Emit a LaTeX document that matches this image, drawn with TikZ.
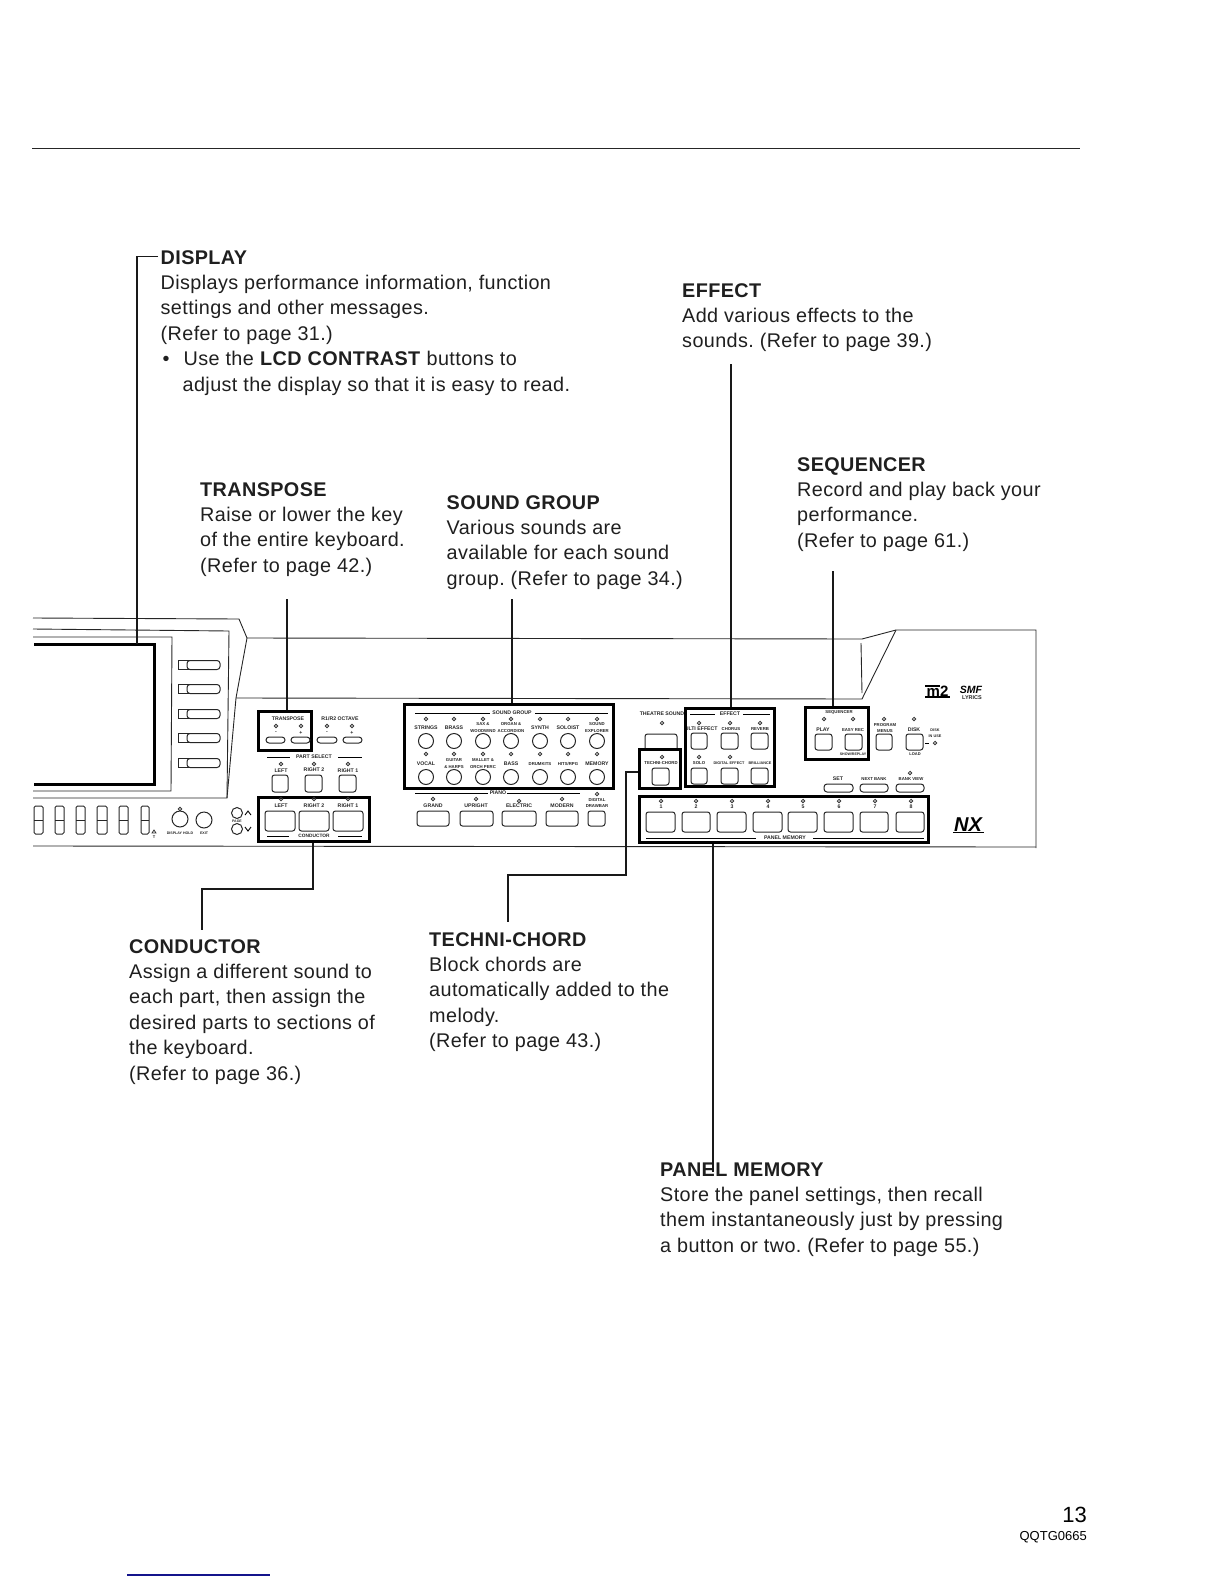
\documentclass[tikz,border=0pt]{standalone}
\usepackage{fontspec}
\setmainfont{Liberation Sans}
\newfontfamily\bodyfont[LetterSpace=2.0]{Liberation Sans}
\usetikzlibrary{fit}
\newcounter{autonode}
\frenchspacing
\definecolor{footblue}{RGB}{20,20,140}
\tikzset{
  x=1pt,y=-1pt,
  leader/.style={line width=1.3pt,black!90},
  panelline/.style={line width=0.9pt,black!85},
  thickbox/.style={draw=black,line width=3.2pt,inner sep=-1.6pt,rectangle},
  btnshape/.style={draw=black!85,line width=1pt,rounded corners=2.5pt},
  circ/.style={draw=black!85,line width=1pt},
  ledmark/.style={draw=black!80,line width=0.8pt},
  body/.style={inner sep=0pt,anchor=north west,align=left,font=\bodyfont\fontsize{19.8}{25.4}\selectfont,text=black!88},
  tiny/.style={inner sep=0pt,align=center,font=\fontsize{5.2}{6.4}\selectfont\bfseries,text=black!85},
}
\newcommand{\lbl}[3]{\stepcounter{autonode}\node[tiny] (lab\theautonode) at (#1,#2) {#3};}
\newcommand{\nar}{\fontsize{4.3}{6.6}\selectfont}
\newcommand{\nrr}{\fontsize{3.8}{6}\selectfont}
\newcommand{\led}[2]{\draw[ledmark] (#1,#2) circle (1.7);}
\newcommand{\btn}[4]{\draw[btnshape] (#1,#2) rectangle (#3,#4);}
\newcommand{\rbtn}[3]{\draw[circ] (#1,#2) circle (#3);}
\newcommand{\pill}[4]{\draw[line width=1pt,black!85,rounded corners=3pt] (#1,#2) rectangle (#3,#4);}
\newcommand{\tbox}[5]{\node[thickbox,fit={(#2,#3)(#4,#5)}] (#1) {};}
\begin{document}
\begin{tikzpicture}
\useasboundingbox (0,0) rectangle (1224,1584);
% top rule and foot rule
\coordinate (ruleL) at (32,148.5); \coordinate (ruleR) at (1080,148.5);
\draw[line width=1.1pt,black!85] (ruleL) -- (ruleR);
\coordinate (footL) at (127,1575); \coordinate (footR) at (270,1575);
\draw[line width=1.2pt,footblue] (footL) -- (footR);

% texts
\node[body] (tDisplay) at (160.5,250) {\textbf{DISPLAY}\\Displays performance information, function\\settings and other messages.\\(Refer to page 31.)\\\hspace*{2pt}\makebox[21pt][l]{•}Use the \textbf{LCD CONTRAST} buttons to\\\hspace*{22pt}adjust the display so that it is easy to read.};
\node[body] (tEffect) at (682,283) {\textbf{EFFECT}\\Add various effects to the\\sounds. (Refer to page 39.)};
\node[body] (tTranspose) at (200,482) {\textbf{TRANSPOSE}\\Raise or lower the key\\of the entire keyboard.\\(Refer to page 42.)};
\node[body] (tSound) at (446.5,495) {\textbf{SOUND GROUP}\\Various sounds are\\available for each sound\\group. (Refer to page 34.)};
\node[body] (tSeq) at (797,457) {\textbf{SEQUENCER}\\Record and play back your\\performance.\\(Refer to page 61.)};
\node[body] (tCond) at (129,939) {\textbf{CONDUCTOR}\\Assign a different sound to\\each part, then assign the\\desired parts to sections of\\the keyboard.\\(Refer to page 36.)};
\node[body] (tTechni) at (429,932) {\textbf{TECHNI-CHORD}\\Block chords are\\automatically added to the\\melody.\\(Refer to page 43.)};
\node[body] (tPanel) at (660,1162) {\textbf{PANEL MEMORY}\\Store the panel settings, then recall\\them instantaneously just by pressing\\a button or two. (Refer to page 55.)};
\node[inner sep=0pt,anchor=east,font=\fontsize{22}{24}\selectfont] (pageNo) at (1087,1515) {13};
\node[inner sep=0pt,anchor=east,font=\fontsize{13}{14}\selectfont] (pageCode) at (1087,1537) {QQTG0665};

% panel outline
\draw[panelline] (33,618) -- (239,619) -- (247,638) -- (862,639) -- (896,630) -- (1036,630) -- (1036,848);
\draw[panelline] (33,846) -- (1036,847);
\draw[panelline] (33,629) -- (229,631) -- (227,798) -- (33,798);
\draw[panelline] (33,637) -- (172,637) -- (171,791) -- (33,791);
\draw[panelline] (247,638) -- (236,698) -- (227,798);
\draw[panelline] (236,698) -- (862,699) -- (896,630);
\draw[panelline] (861,643) -- (862,693);
% LCD window
\draw[line width=3pt] (34,644) -- (154,644) -- (154,784) -- (34,784);
\coordinate (lcdTop) at (137,644);
% LCD contrast keys
\foreach \yy in {665,689,714,738,763}{
  \draw[line width=0.9pt,black!85] (190,\yy-4.5) -- (178,\yy-4.5) -- (178,\yy+4.5) -- (190,\yy+4.5);
  \pill{187}{\yy-4.5}{220}{\yy+4.5}
}
% sliders
\foreach \xa/\xb in {34/43,55/64,76/85,97/107,119/128,141/149}{
  \draw[line width=1pt,black!85,rounded corners=1.5pt] (\xa,806) rectangle (\xb,834);
  \draw[line width=1pt,black!85] (\xa,820) -- (\xb,820);
}
\draw[ledmark] (154,830) -- (152,833) -- (156,833) -- cycle;
\lbl{154}{837}{\fontsize{4}{4}\selectfont T}
\led{180}{809}\rbtn{180}{819}{8}\rbtn{204}{820}{8}
\lbl{180}{833}{\fontsize{3.6}{4}\selectfont DISPLAY HOLD}\lbl{204}{833}{\fontsize{3.6}{4}\selectfont EXIT}
\rbtn{237}{813}{5.5}\rbtn{237}{829}{5.5}
\lbl{237}{821}{\fontsize{3.5}{4}\selectfont PAGE}
\draw[line width=.9pt] (245,815) -- (248,811) -- (251,815);
\draw[line width=.9pt] (245,827) -- (248,831) -- (251,827);

% transpose + octave
\tbox{bTranspose}{257}{710}{313}{752}
\lbl{288}{719}{TRANSPOSE}\lbl{340}{719}{R1/R2 OCTAVE}
\led{276}{726}\led{301}{726}\led{327}{726}\led{352}{726}
\lbl{276}{733}{-}\lbl{301}{733}{+}\lbl{327}{733}{-}\lbl{352}{733}{+}
\pill{266}{737}{285}{743}\pill{291}{737}{310}{743}\pill{317}{737}{337}{743}\pill{343}{737}{362}{743}
\lbl{314}{757}{PART SELECT}
\draw[line width=.9pt] (267,757) -- (290,757) (338,757) -- (362,757);
\led{281}{764}\led{314}{764}\led{348}{764}
\lbl{281}{771}{LEFT}\lbl{314}{770}{RIGHT 2}\lbl{348}{771}{RIGHT 1}
\btn{272}{775}{288}{792}\btn{305}{775}{322}{792}\btn{339}{775}{356}{792}
% conductor
\tbox{bConductor}{257}{796}{371}{843}
\led{281}{799}\led{314}{799}\led{348}{799}
\lbl{281}{806}{LEFT}\lbl{314}{806}{RIGHT 2}\lbl{348}{806}{RIGHT 1}
\btn{265}{811}{295}{831}\btn{299}{811}{329}{831}\btn{333}{811}{363}{831}
\lbl{314}{836}{\fontsize{4.8}{5}\selectfont CONDUCTOR}
\draw[line width=.9pt] (267,836) -- (289,836) (338,836) -- (362,836);

% sound group
\tbox{bSound}{403}{703}{615}{790}
\lbl{512}{713}{SOUND GROUP}
\draw[line width=.9pt] (415,713) -- (490,713) (535,713) -- (608,713);
\foreach \xx in {426,454,483,511,540,568,597}{
  \led{\xx}{719}\rbtn{\xx}{741}{7.5}\led{\xx}{754}\rbtn{\xx}{777}{7.5}
}
\lbl{426}{728}{STRINGS}\lbl{454}{728}{BRASS}\lbl{483}{727.5}{\nar SAX \&\\\nar WOODWIND}\lbl{511}{727.5}{\nar ORGAN \&\\\nar ACCORDION}\lbl{540}{728}{SYNTH}\lbl{568}{728}{SOLOIST}\lbl{597}{727.5}{\nar SOUND\\\nar EXPLORER}
\lbl{426}{764}{VOCAL}\lbl{454}{763.5}{\nar GUITAR\\\nar \& HARPS}\lbl{483}{763.5}{\nar MALLET \&\\\nar ORCH PERC}\lbl{511}{764}{BASS}\lbl{540}{764}{\nar DRUMKITS}\lbl{568}{764}{\nar HITS/RPG}\lbl{597}{764}{MEMORY}
% piano
\lbl{498}{793}{PIANO}
\draw[line width=.9pt] (415,793) -- (488,793) (507,793) -- (580,793);
\led{433}{799}\led{476}{799}\led{519}{801}\led{562}{799}\led{597}{794}
\lbl{433}{806}{GRAND}\lbl{476}{806}{UPRIGHT}\lbl{519}{806}{ELECTRIC}\lbl{562}{806}{MODERN}\lbl{597}{803}{\nar DIGITAL\\\nar DRAWBAR}
\btn{417}{811}{449}{826}\btn{460}{811}{493}{826}\btn{502}{811}{536}{826}\btn{546}{811}{578}{826}\btn{588}{811}{605}{826}

% theatre
\lbl{662}{714}{THEATRE SOUND}\led{662}{723}
\btn{645}{734}{677}{752}
% effect (white fill hides the theatre label end)
\node[thickbox,fill=white,fit={(684,707)(776,788)}] (bEffect) {};
\lbl{730}{714}{EFFECT}
\draw[line width=.9pt] (690,714) -- (715,714) (743,714) -- (770,714);
\foreach \xx in {699,730,760}{\led{\xx}{723}}
\led{699}{757}\led{730}{757}
\begin{scope}
\clip (687,709) rectangle (774,786);
\lbl{699}{729}{MULTI EFFECT}
\end{scope}
\lbl{731}{729}{\nar CHORUS}\lbl{760}{729}{\nar REVERB}
\lbl{699}{763}{\nar SOLO}\lbl{729}{763}{\nrr DIGITAL EFFECT}\lbl{760}{763}{\nrr BRILLIANCE}
\btn{691}{733}{707}{749}\btn{721}{733}{738}{749}\btn{751}{733}{768}{749}
\btn{691}{768}{707}{784}\btn{721}{768}{738}{784}\btn{751}{768}{768}{784}
% techni
\node[thickbox,fill=white,fit={(638,748)(682,790)}] (bTechni) {};
\led{662}{757}\lbl{661}{763}{\nar TECHNI-CHORD}\btn{652}{768}{669}{785}

% sequencer
\tbox{bSeq}{804}{706}{870}{761}
\lbl{839}{712}{\nar SEQUENCER}
\led{824}{719}\led{853}{719}
\lbl{823}{730}{PLAY}\lbl{853}{730}{\nar EASY REC}
\btn{815}{734}{832}{750}\btn{845}{734}{862}{750}
\lbl{853}{754}{\fontsize{3.6}{4.5}\selectfont SHOW/REPLAY}
\led{884}{719}\lbl{885}{728}{\nar PROGRAM\\\nar MENUS}\btn{876}{734}{892}{750}
\led{914}{719}\lbl{914}{730}{DISK}\btn{906}{734}{923}{750}\lbl{915}{754}{\fontsize{4}{4.5}\selectfont LOAD}
\lbl{935}{733}{\nrr DISK\\\nrr IN USE}
\draw[line width=.8pt] (925,743) -- (929,743); \led{935}{743}
\lbl{838}{779}{SET}\lbl{874}{779}{\nar NEXT BANK}\lbl{911}{779}{\nar BANK VIEW}\led{910}{773}
\pill{824}{784}{853}{792}\pill{860}{784}{888}{792}\pill{896}{784}{924}{792}
% panel memory
\tbox{bPanel}{638}{795}{930}{844}
\foreach \xx/\nn in {661/1,696/2,732/3,768/4,803/5,839/6,875/7,911/8}{
  \led{\xx}{801}\lbl{\xx}{807}{\nn}
}
\foreach \xa/\xb in {646/675,682/710,717/746,753/782,788/817,824/853,860/888,896/924}{
  \btn{\xa}{812}{\xb}{832}
}
\lbl{785}{838}{PANEL MEMORY}
\draw[line width=.9pt] (646,838) -- (756,838) (813,838) -- (924,838);
% logos
\node[inner sep=0pt,font=\fontsize{15}{15}\selectfont\bfseries] (midi) at (937.5,691) {m2};
\draw[line width=1.6pt] (925,686) -- (940,686) (925,697) -- (950,697);
\node[inner sep=0pt,font=\fontsize{10.5}{11}\selectfont\bfseries\itshape] (smf) at (971,689.5) {SMF};
\lbl{972}{697.5}{\fontsize{5.5}{6}\selectfont LYRICS}
\node[inner sep=0pt,font=\fontsize{20}{20}\selectfont\bfseries\itshape] (nx) at (968,825) {NX};
\draw[line width=1.2pt] (953,832.5) -- (984,832.5);

% connectors
\coordinate (dispA) at (158,256.5); \coordinate (dispB) at (137,256.5);
\draw[leader] (dispA) -- (dispB) -- (lcdTop);
\coordinate (trTop) at (287,599);
\draw[leader] (trTop) -- (trTop |- bTranspose.north);
\coordinate (sgTop) at (512,599);
\draw[leader] (sgTop) -- (sgTop |- bSound.north);
\coordinate (efTop) at (731,364);
\draw[leader] (efTop) -- (efTop |- bEffect.north);
\coordinate (sqTop) at (833,571);
\draw[leader] (sqTop) -- (sqTop |- bSeq.north);
\coordinate (cdA) at (313,889); \coordinate (cdB) at (202,889); \coordinate (cdC) at (202,930);
\draw[leader] (bConductor.south -| cdA) -- (cdA) -- (cdB) -- (cdC);
\coordinate (tcA) at (626,772); \coordinate (tcB) at (626,875); \coordinate (tcC) at (508,875); \coordinate (tcD) at (508,922);
\draw[leader] (bTechni.west |- tcA) -- (tcA) -- (tcB) -- (tcC) -- (tcD);
\coordinate (pmEnd) at (713,1172);
\draw[leader] (bPanel.south -| pmEnd) -- (pmEnd);
\end{tikzpicture}
\end{document}
